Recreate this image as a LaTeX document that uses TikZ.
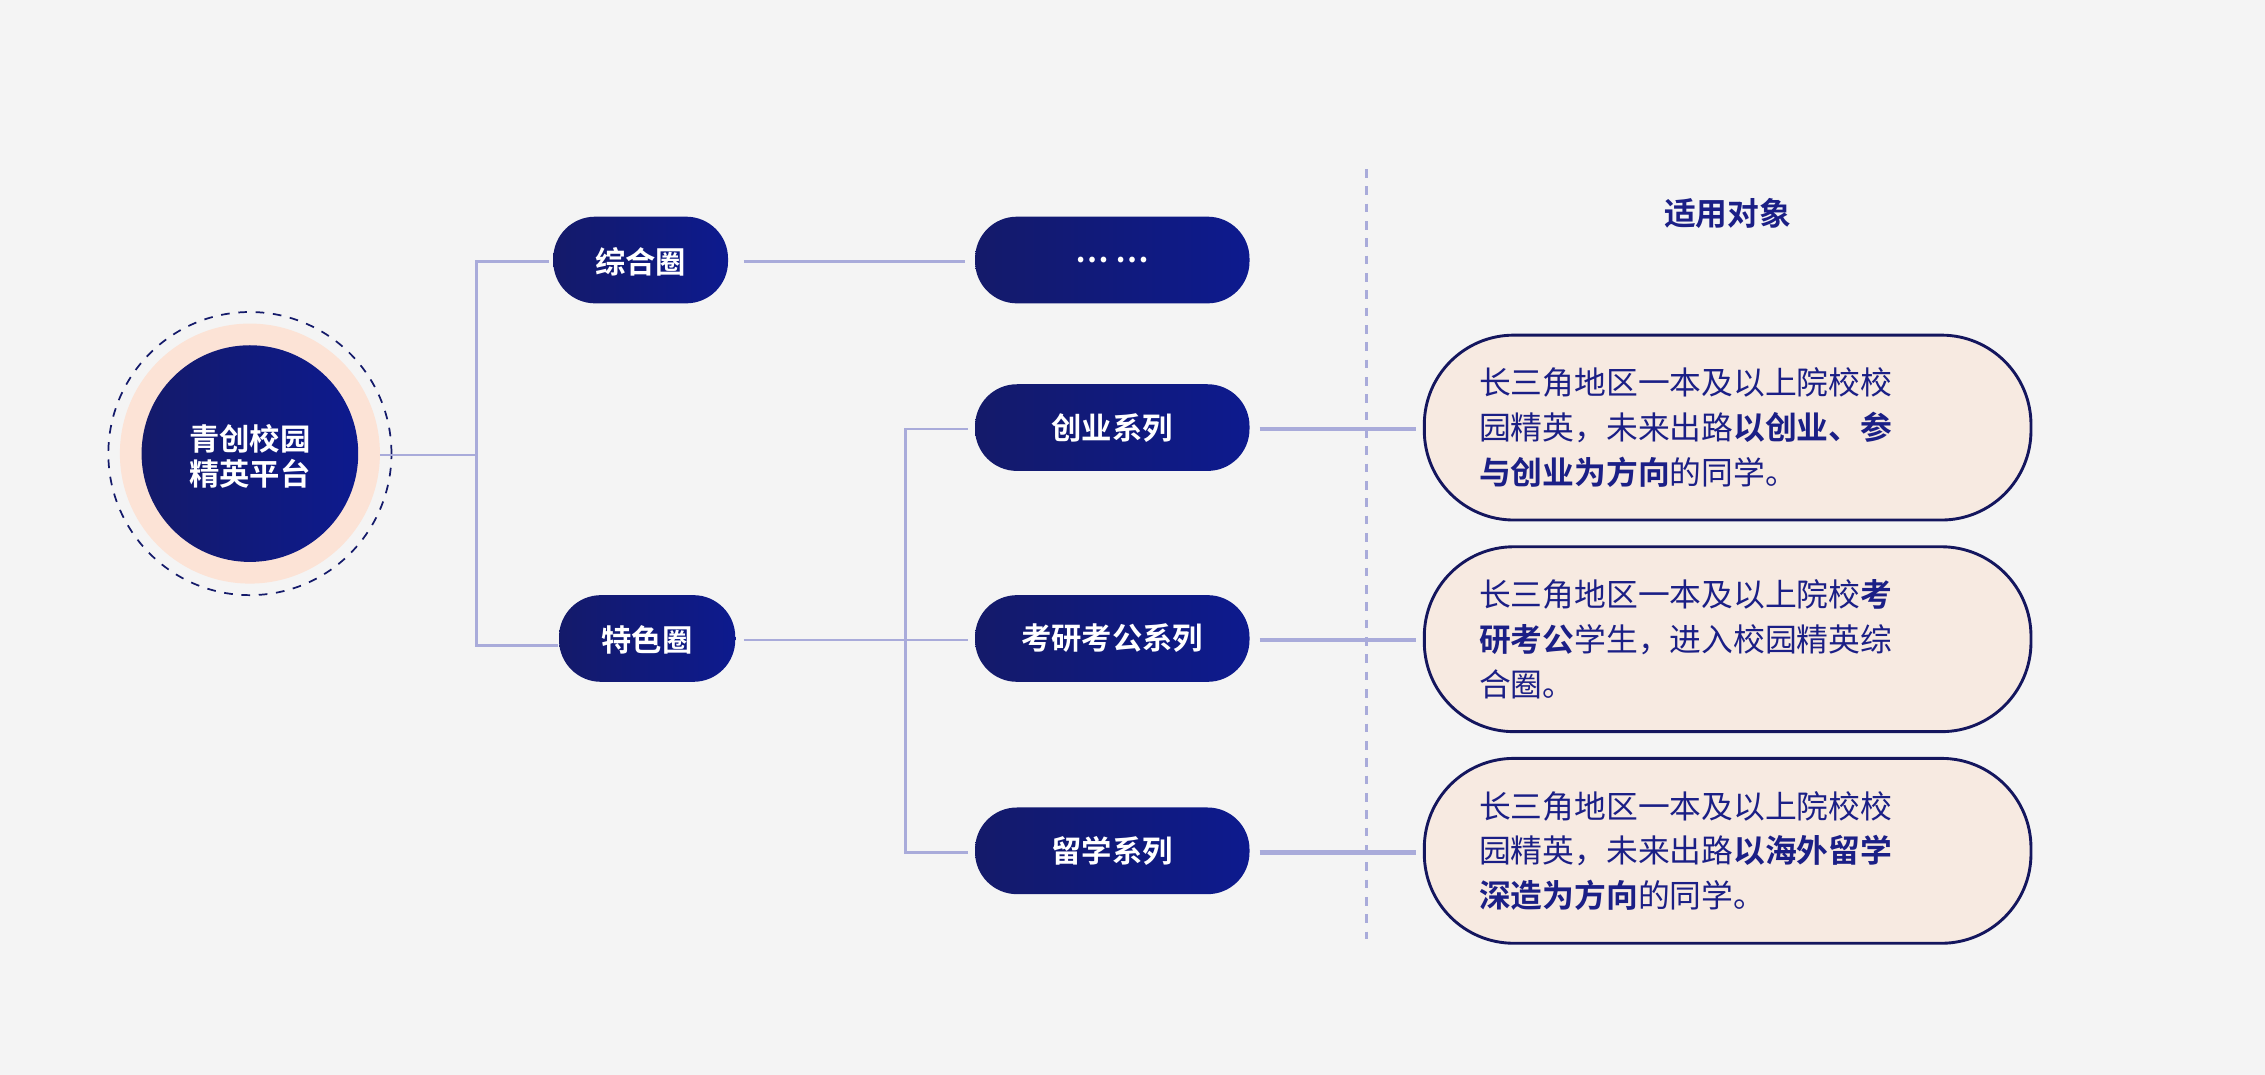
\documentclass[tikz,border=0pt]{standalone}
\usepackage{fontspec}
\setmainfont{Noto Sans CJK SC}
\newfontfamily\cjkb[FakeBold=0]{Noto Sans CJK SC Bold}
\definecolor{bg}{HTML}{F4F4F4}
\definecolor{navyA}{HTML}{141A6A}
\definecolor{navyB}{HTML}{0D1A8E}
\definecolor{lnk}{HTML}{A9ABDA}
\definecolor{peach}{HTML}{FCE3D6}
\definecolor{pbox}{HTML}{F7EAE1}
\definecolor{txt}{HTML}{1B1F86}
\definecolor{edge}{HTML}{14165E}
\begin{document}
\begin{tikzpicture}[x=0.5pt,y=-0.5pt,
  pill/.style={rounded corners=14.5pt,left color=navyA,right color=navyB,draw=none,
     text=white,font=\cjkb\fontsize{10.5}{12}\selectfont},
  lk/.style={draw=lnk,line width=0.9pt},
  lkb/.style={draw=lnk,line width=1.6pt},
  desc/.style={draw=edge,line width=1pt,fill=pbox,rounded corners=31pt,minimum width=210pt,minimum height=64pt,
     text width=172pt,align=left,text=txt,font=\fontsize{11}{15.5}\selectfont,inner sep=0pt}]
\fill[bg] (0,0) rectangle (1568,744);
\useasboundingbox (0,0) rectangle (1568,744);
% root
\draw[navyA,dashed,line width=0.6pt] (173,314) circle[radius=49pt];
\fill[peach] (173,314) circle[radius=45pt];
\shade[left color=navyA,right color=navyB] (173,314) circle[radius=37.5pt];
\node[text=white,align=center,font=\cjkb\fontsize{10.5}{12}\selectfont] (root) at (173,316) {青创校园\\精英平台};
\coordinate (rootE) at (263,315);
\coordinate (j1) at (330,315);
% level 1
\path[pill] (383,150) rectangle (504,210);
\node[text=white,font=\cjkb\fontsize{10.5}{12}\selectfont] (zh) at (443.5,181) {综合圈};
\path[pill] (387,412) rectangle (509,472);
\node[text=white,font=\cjkb\fontsize{10.5}{12}\selectfont] (ts) at (448,443) {特色圈};
\draw[lk] (rootE) -- (j1);
\draw[lk] (380,181) -- (330,181) -- (330,447) -- (386,447);
% level 2
\foreach \y/\t/\n in {180/{… …}/d, 296/{创业系列}/a, 442/{考研考公系列}/b, 589/{留学系列}/c}{
  \path[pill] (675,\y-30) rectangle (865,\y+30);
  \node[text=white,font=\cjkb\fontsize{10.5}{12}\selectfont] (\n) at (770,\y) {\t};
}
\draw[lk] (515,181) -- (668,181);
\draw[lk] (515,443) -- (670,443);
\draw[lk] (670,297) -- (627,297) -- (627,590) -- (670,590);
% dashed divider
\draw[lnk,dashed,line width=0.8pt] (946,117) -- (946,650);
\node[text=txt,font=\cjkb\fontsize{11}{13}\selectfont] (hdr) at (1196,148) {适用对象};
% descriptions
\node[desc] (da) at (1196,296) {长三角地区一本及以上院校校\\园精英，未来出路{\cjkb 以创业、参\\与创业为方向}的同学。};
\node[desc] (db) at (1196,442.5) {长三角地区一本及以上院校{\cjkb 考\\研考公}学生，进入校园精英综\\合圈。};
\node[desc] (dc) at (1196,589) {长三角地区一本及以上院校校\\园精英，未来出路{\cjkb 以海外留学\\深造为方向}的同学。};
\draw[lkb] (872,297) -- (980,297);
\draw[lkb] (872,443) -- (980,443);
\draw[lkb] (872,590) -- (980,590);
\end{tikzpicture}
\end{document}
